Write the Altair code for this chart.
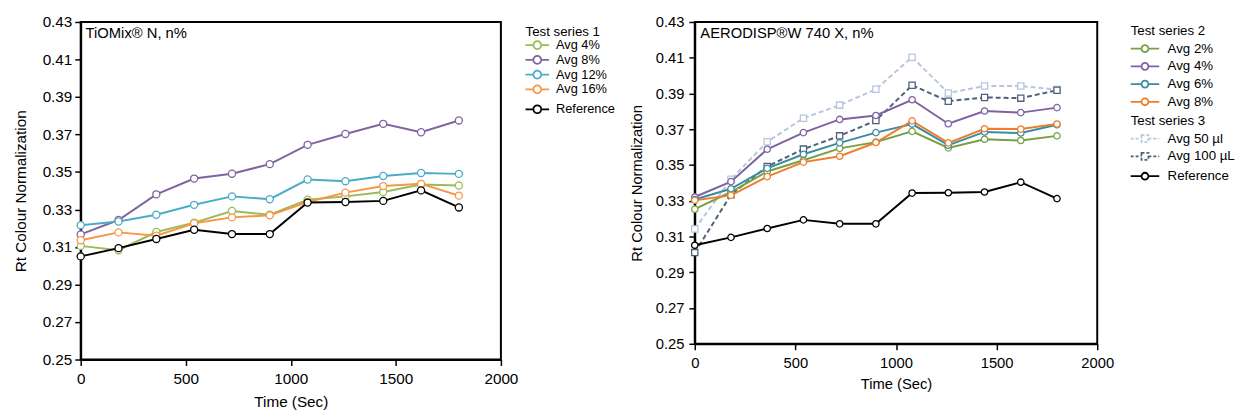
import altair as alt
import pandas as pd

# ---------------- data ----------------
time_s = [0, 180, 360, 540, 720, 900, 1080, 1260, 1440, 1620, 1800]

# Left panel: TiOMix® N
left_title = "TiOMix® N, n%"
left_group_title = "Test series 1"
left_names = ["Avg 4%", "Avg 8%", "Avg 12%", "Avg 16%"]
tio_avg4 = [0.3106, 0.3083, 0.3180, 0.3230, 0.3292, 0.3272, 0.3352, 0.3370, 0.3393, 0.3433, 0.3428]
tio_avg8 = [0.3167, 0.3244, 0.3381, 0.3465, 0.3491, 0.3542, 0.3645, 0.3703, 0.3757, 0.3712, 0.3775]
tio_avg12 = [0.3216, 0.3236, 0.3272, 0.3325, 0.3370, 0.3355, 0.3460, 0.3451, 0.3479, 0.3495, 0.3490]
tio_avg16 = [0.3136, 0.3178, 0.3160, 0.3227, 0.3258, 0.3269, 0.3340, 0.3390, 0.3425, 0.3437, 0.3374]
tio_ref = [0.3050, 0.3094, 0.3143, 0.3192, 0.3169, 0.3169, 0.3337, 0.3340, 0.3346, 0.3402, 0.3311]
left_colors = ["#9BBB59", "#8064A2", "#4BACC6", "#F79646"]

# Right panel: AERODISP® W 740 X
right_title = "AERODISP®W 740 X, n%"
right_group2_title = "Test series 2"
right_group3_title = "Test series 3"
right_names2 = ["Avg 2%", "Avg 4%", "Avg 6%", "Avg 8%"]
right_names3 = ["Avg 50 µl", "Avg 100 µL"]
aero_avg2 = [0.3253, 0.3349, 0.3464, 0.3527, 0.3593, 0.3628, 0.3688, 0.3596, 0.3644, 0.3637, 0.3663]
aero_avg4 = [0.3321, 0.3407, 0.3588, 0.3681, 0.3755, 0.3777, 0.3865, 0.3731, 0.3802, 0.3793, 0.3821]
aero_avg6 = [0.3307, 0.3367, 0.3481, 0.3560, 0.3624, 0.3681, 0.3729, 0.3611, 0.3685, 0.3679, 0.3725]
aero_avg8 = [0.3303, 0.3330, 0.3435, 0.3516, 0.3549, 0.3626, 0.3747, 0.3624, 0.3703, 0.3701, 0.3729]
aero_50ul = [0.3142, 0.3420, 0.3630, 0.3762, 0.3835, 0.3924, 0.4103, 0.3903, 0.3942, 0.3942, 0.3922]
aero_100ul = [0.3010, 0.3334, 0.3492, 0.3589, 0.3663, 0.3749, 0.3946, 0.3857, 0.3878, 0.3874, 0.3918]
aero_ref = [0.3051, 0.3095, 0.3145, 0.3193, 0.3171, 0.3171, 0.3343, 0.3345, 0.3349, 0.3404, 0.3312]
right_colors2 = ["#76A043", "#7E62A1", "#3A8C9E", "#EE7D2E"]
right_colors3 = ["#B7C6DF", "#4F6079"]

ref_name = ["Reference"]
ref_color = ["#000000"]

x_ticks = [0, 500, 1000, 1500, 2000]
y_ticks = [0.25, 0.27, 0.29, 0.31, 0.33, 0.35, 0.37, 0.39, 0.41, 0.43]
x_label = "Time (Sec)"
y_label = "Rt Colour Normalization"

FONT = "Liberation Sans"


def long_df(names, arrays):
    rows = []
    for n, arr in zip(names, arrays):
        for t, v in zip(time_s, arr):
            rows.append({"time": t, "value": v, "series": n})
    return pd.DataFrame(rows)


def circ_path(half, r):
    return (f"M{-half},0L{-r},0M{r},0L{half},0"
            f"M{-r},0A{r},{r},0,1,1,{r},0A{r},{r},0,1,1,{-r},0")


def sq_path(half, r):
    return (f"M{-half},0L{-r},0M{r},0L{half},0"
            f"M{-r},{-r}L{r},{-r}L{r},{r}L{-r},{r}Z")


def make_axes(fs, lpad_x, tpad_x, lpad_y, tpad_y):
    common = dict(labelFontSize=fs, titleFontSize=fs, tickSize=6, tickWidth=1.5,
                  tickColor="black", domainColor="black", domainWidth=2,
                  labelColor="black", titleColor="black", titleFontWeight="normal",
                  grid=False, labelFlush=False, labelOverlap=False)
    x = alt.X("time:Q", scale=alt.Scale(domain=[0, 2000], nice=False, zero=False),
              axis=alt.Axis(values=x_ticks, format="d", title=x_label,
                            labelPadding=lpad_x, titlePadding=tpad_x, **common))
    y = alt.Y("value:Q", scale=alt.Scale(domain=[0.25, 0.43], nice=False, zero=False),
              axis=alt.Axis(values=y_ticks, format=".2f", title=y_label,
                            labelPadding=lpad_y, titlePadding=tpad_y, **common))
    return x, y


def group(df, x, y, names, colors, legend, shape, size, dash=None):
    stroke = alt.Stroke("series:N", scale=alt.Scale(domain=names, range=colors),
                        legend=legend)
    lkw = dict(strokeWidth=2)
    if dash is not None:
        lkw["strokeDash"] = dash
    line = alt.Chart(df).mark_line(**lkw).encode(x=x, y=y, stroke=stroke)
    pts = alt.Chart(df).mark_point(shape=shape, filled=True, fill="white", size=size,
                                   strokeWidth=1.3, opacity=1).encode(x=x, y=y, stroke=stroke)
    return alt.layer(line, pts)


def legend(title, lx, ly, path, ssize, soff, loff, rowpad, tpad, fs, dash=None):
    kw = dict(orient="none", legendX=lx, legendY=ly, direction="vertical",
              symbolType=path, symbolSize=ssize, symbolStrokeWidth=1.8,
              symbolFillColor="white", symbolOffset=soff, labelOffset=loff,
              rowPadding=rowpad, titlePadding=tpad, labelFontSize=fs,
              titleFontSize=13.5, titleFontWeight="normal", titleColor="black",
              labelColor="black", padding=0, labelLimit=200, title=title)
    if dash is not None:
        kw["symbolDash"] = dash
    return alt.Legend(**kw)


# ---------------- left panel ----------------
xl, yl = make_axes(15.5, 6, 8, 3, 14)
lpath = circ_path(2, 0.667)
left_g1 = group(long_df(left_names, [tio_avg4, tio_avg8, tio_avg12, tio_avg16]), xl, yl,
                left_names, left_colors,
                legend(left_group_title, 452, 3, lpath, 144, 5, 12, -1, 0, 13), "circle", 52)
left_ref = group(long_df(ref_name, [tio_ref]), xl, yl, ref_name, ref_color,
                 legend(None, 452, 81.7, lpath, 144, 5, 12, -1, 0, 13), "circle", 52)
left_txt = alt.Chart(pd.DataFrame({"t": [left_title]})).mark_text(
    align="left", baseline="alphabetic", fontSize=15, color="black").encode(
    text="t:N", x=alt.value(5), y=alt.value(16.7))
left = alt.layer(left_g1, left_ref, left_txt).resolve_scale(stroke="independent").properties(
    width=427, height=343)

# ---------------- right panel ----------------
xr, yr = make_axes(15, 6, 6, 5, 11)
rpath = circ_path(2.07, 0.5)
rsq = sq_path(2.07, 0.5)
right_g2 = group(long_df(right_names2, [aero_avg2, aero_avg4, aero_avg6, aero_avg8]), xr, yr,
                 right_names2, right_colors2,
                 legend(right_group2_title, 443, 2.6, rpath, 196, 6.5, 15, 2, 3, 13.5),
                 "circle", 42)
right_g3 = group(long_df(right_names3, [aero_50ul, aero_100ul]), xr, yr,
                 right_names3, right_colors3,
                 legend(right_group3_title, 443, 94, rsq, 196, 6.5, 15, 2, 3, 13.5, dash=[3, 2]),
                 "square", 40, dash=[5, 3])
right_ref = group(long_df(ref_name, [aero_ref]), xr, yr, ref_name, ref_color,
                  legend(None, 443, 148.7, rpath, 196, 6.5, 15, 2, 3, 13.5), "circle", 42)
right_txt = alt.Chart(pd.DataFrame({"t": [right_title]})).mark_text(
    align="left", baseline="alphabetic", fontSize=15, color="black").encode(
    text="t:N", x=alt.value(5.7), y=alt.value(16.7))
right = alt.layer(right_g3, right_g2, right_ref, right_txt).resolve_scale(
    stroke="independent").properties(width=409, height=327)

chart = alt.hconcat(left, right, spacing=197, bounds="flush").resolve_scale(
    stroke="independent", x="independent", y="independent"
).properties(
    padding={"left": 12, "top": 11, "right": 0, "bottom": 0}
).configure(font=FONT).configure_view(stroke="black", strokeWidth=2)

chart.save("out.html", embed_options={"renderer": "svg", "actions": False})
